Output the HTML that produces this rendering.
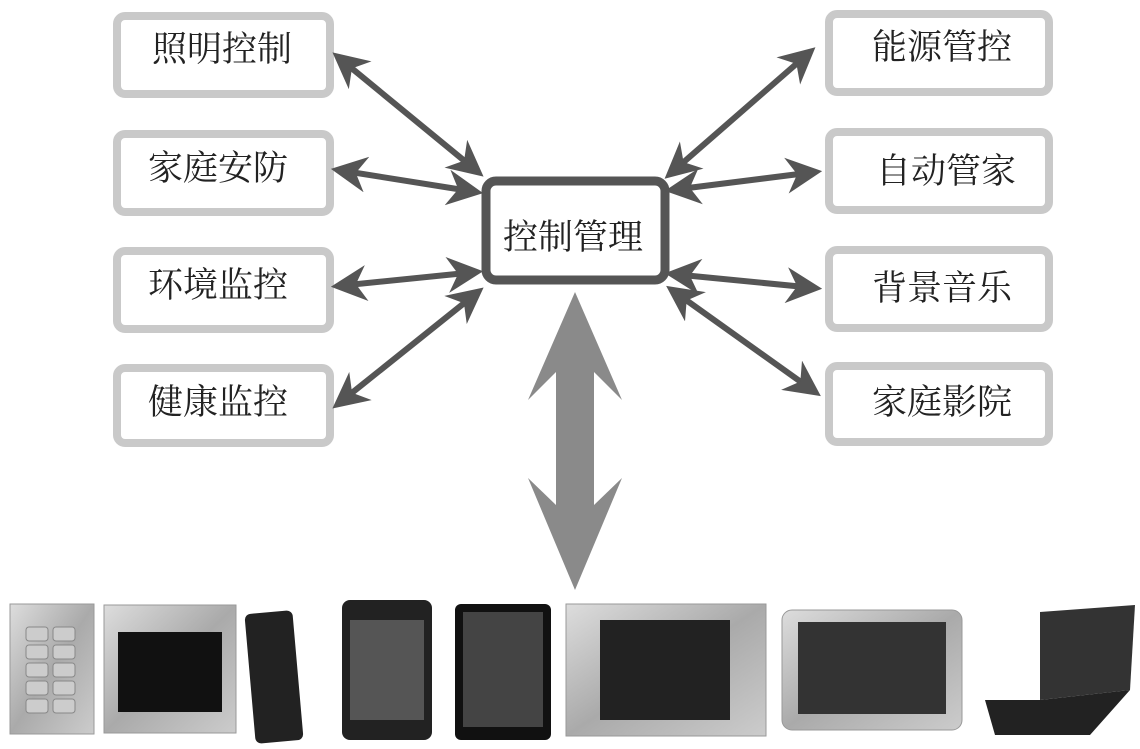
<!DOCTYPE html>
<html><head><meta charset="utf-8"><style>
body{margin:0;background:#fff;}
svg{display:block}
text{font-family:"Liberation Sans","Noto Serif CJK SC","Noto Sans CJK SC",serif;font-size:35px;fill:#222;}
</style></head><body>
<svg width="1140" height="749" viewBox="0 0 1140 749">
<defs>
<marker id="ah" viewBox="0 0 10 10" refX="8" refY="5" markerWidth="6" markerHeight="6" orient="auto-start-reverse" markerUnits="strokeWidth">
<path d="M0,0 L10,5 L0,10 L3,5 Z" fill="#555"/></marker>
<linearGradient id="met" x1="0" y1="0" x2="1" y2="1"><stop offset="0" stop-color="#ddd"/><stop offset="0.5" stop-color="#aaa"/><stop offset="1" stop-color="#ccc"/></linearGradient>
</defs>
<g fill="#fff" stroke="#c9c9c9" stroke-width="8">
<rect x="117" y="16" width="213" height="78" rx="8"/>
<rect x="117" y="134" width="213" height="78" rx="8"/>
<rect x="117" y="251" width="213" height="78" rx="8"/>
<rect x="117" y="368" width="213" height="75" rx="8"/>
<rect x="829" y="14" width="220" height="78" rx="8"/>
<rect x="829" y="132" width="220" height="78" rx="8"/>
<rect x="829" y="250" width="220" height="78" rx="8"/>
<rect x="829" y="366" width="220" height="76" rx="8"/>
</g>
<rect x="486" y="181" width="179" height="99" rx="10" fill="#fff" stroke="#555" stroke-width="9"/>
<text x="152" y="61">照明控制</text>
<text x="148" y="180">家庭安防</text>
<text x="148" y="297">环境监控</text>
<text x="148" y="414">健康监控</text>
<text x="872" y="59">能源管控</text>
<text x="876" y="183">自动管家</text>
<text x="872" y="300">背景音乐</text>
<text x="872" y="414">家庭影院</text>
<text x="503" y="249">控制管理</text>
<g stroke="#555" stroke-width="6" marker-start="url(#ah)" marker-end="url(#ah)">
<line x1="338" y1="57" x2="478" y2="172"/>
<line x1="338" y1="170" x2="476" y2="192"/>
<line x1="338" y1="286" x2="476" y2="272"/>
<line x1="338" y1="404" x2="478" y2="292"/>
<line x1="810" y1="52" x2="670" y2="174"/>
<line x1="815" y1="172" x2="672" y2="190"/>
<line x1="815" y1="288" x2="672" y2="274"/>
<line x1="815" y1="392" x2="672" y2="290"/>
</g>
<path d="M575,292 L622,400 L594,372 L594,505 L622,478 L575,590 L528,478 L556,505 L556,372 L528,400 Z" fill="#8a8a8a"/>
<!-- devices -->
<rect x="10" y="604" width="84" height="130" fill="url(#met)" stroke="#999"/>
<g fill="#ccc" stroke="#888">
<rect x="26" y="627" width="22" height="14" rx="3"/><rect x="53" y="627" width="22" height="14" rx="3"/>
<rect x="26" y="645" width="22" height="14" rx="3"/><rect x="53" y="645" width="22" height="14" rx="3"/>
<rect x="26" y="663" width="22" height="14" rx="3"/><rect x="53" y="663" width="22" height="14" rx="3"/>
<rect x="26" y="681" width="22" height="14" rx="3"/><rect x="53" y="681" width="22" height="14" rx="3"/>
<rect x="26" y="699" width="22" height="14" rx="3"/><rect x="53" y="699" width="22" height="14" rx="3"/>
</g>
<rect x="104" y="605" width="132" height="128" fill="url(#met)" stroke="#999"/>
<rect x="118" y="632" width="104" height="80" fill="#111"/>
<rect x="250" y="612" width="48" height="130" rx="6" fill="#222" transform="rotate(-5 274 677)"/>
<rect x="342" y="600" width="90" height="140" rx="8" fill="#222"/>
<rect x="350" y="620" width="74" height="100" fill="#555"/>
<rect x="455" y="604" width="96" height="136" rx="6" fill="#111"/>
<rect x="463" y="612" width="80" height="115" fill="#444"/>
<rect x="566" y="604" width="200" height="132" fill="url(#met)" stroke="#999"/>
<rect x="600" y="620" width="130" height="100" fill="#222"/>
<rect x="782" y="610" width="180" height="120" rx="10" fill="url(#met)" stroke="#999"/>
<rect x="798" y="622" width="148" height="92" fill="#333"/>
<path d="M1040,612 L1135,605 L1130,690 L1040,700 Z" fill="#333"/>
<path d="M985,700 L1040,700 L1130,690 L1090,735 L995,735 Z" fill="#222"/>
</svg>
</body></html>
